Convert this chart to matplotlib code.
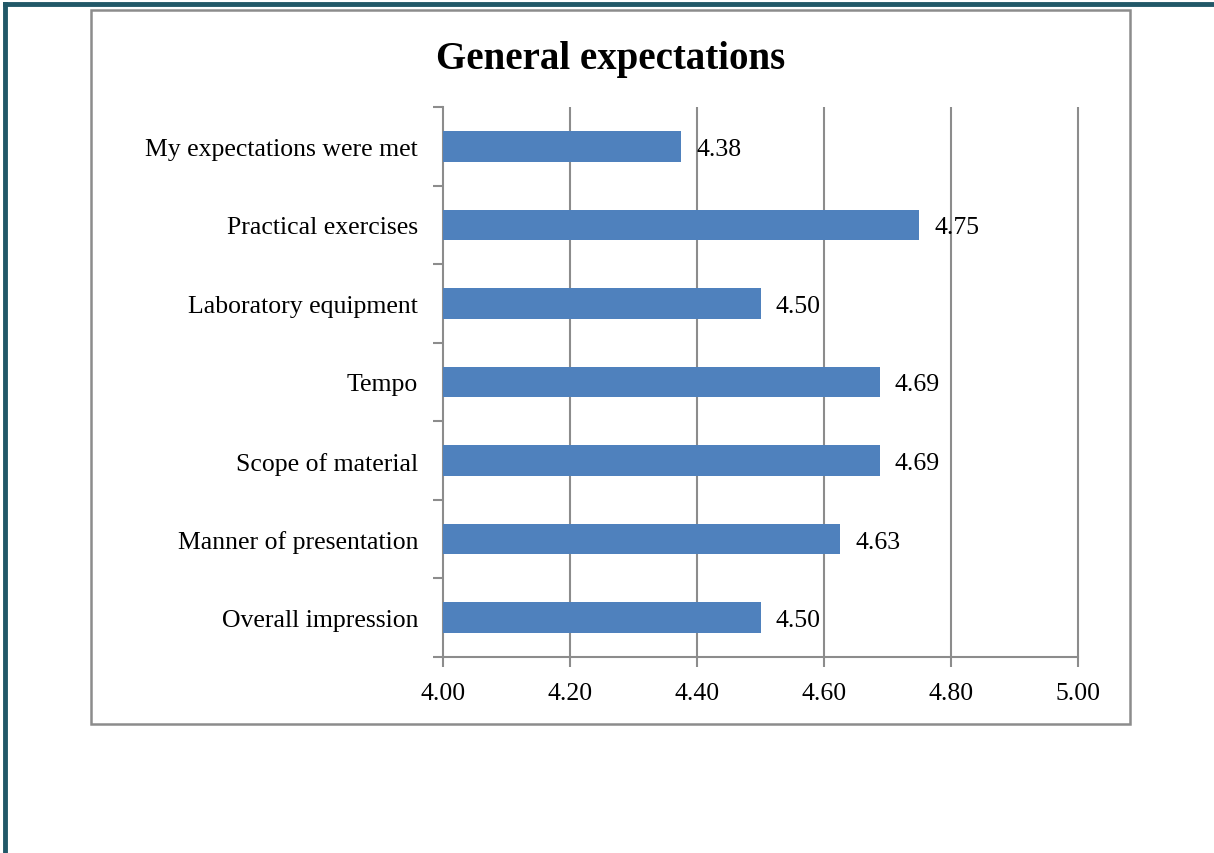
import matplotlib.pyplot as plt
from matplotlib.patches import Rectangle
import numpy as np

# Chart data (bottom to top, as drawn)
categories = ['Overall impression', 'Manner of presentation', 'Scope of material',
              'Tempo', 'Laboratory equipment', 'Practical exercises',
              'My expectations were met']
scores = [4.50, 4.625, 4.6875, 4.6875, 4.50, 4.75, 4.375]
x_ticks = [4.00, 4.20, 4.40, 4.60, 4.80, 5.00]

plt.rcParams['font.family'] = ['Liberation Serif', 'DejaVu Serif']

fig = plt.figure(figsize=(12.14, 8.54), dpi=100)
W, H = 1214, 854

# outer page border (top and left) and chart frame
fig.add_artist(plt.Line2D([5 / W, 1], [1 - 5 / H, 1 - 5 / H], color='#215868', lw=3.5))
fig.add_artist(plt.Line2D([5 / W, 5 / W], [0, 1 - 5 / H], color='#215868', lw=3.5))
fig.add_artist(Rectangle((91 / W, 1 - 725 / H), (1130 - 91) / W, (725 - 11) / H,
                         transform=fig.transFigure, fill=False, edgecolor='#8c8c8c', lw=1.8))

ax = fig.add_axes([443 / W, 1 - 658 / H, (1078 - 443) / W, (658 - 108) / H])
y = np.arange(len(categories))
ax.barh(y, [s - 4.0 for s in scores], left=4.0, height=0.39, color='#4F81BD', zorder=3)

for yi, s in zip(y, scores):
    ax.text(s + 0.024, yi, '%.2f' % (s + 1e-9), va='center_baseline', ha='left',
            fontsize=18.5, zorder=4)

ax.set_xlim(4.0, 5.0)
ax.set_ylim(-0.5, len(categories) - 0.5)
ax.set_xticks(x_ticks)
ax.set_xticklabels(['%.2f' % t for t in x_ticks], fontsize=18.5)
ax.set_yticks(y)
ax.set_yticklabels(categories, fontsize=18.5, va='center_baseline')
ax.set_yticks(np.arange(-0.5, len(categories)), minor=True)
ax.tick_params(axis='y', which='major', length=0, pad=18)
ax.tick_params(axis='y', which='minor', length=7, color='#8c8c8c', width=1.5)
ax.tick_params(axis='x', length=7, color='#8c8c8c', width=1.5, pad=11)
ax.vlines(x_ticks[1:], -0.5, len(categories) - 0.5, color='#8c8c8c', lw=1.5,
          zorder=0, clip_on=False)

for side in ['top', 'right']:
    ax.spines[side].set_visible(False)
for side in ['left', 'bottom']:
    ax.spines[side].set_color('#8c8c8c')
    ax.spines[side].set_linewidth(1.5)

fig.text(611 / W, 1 - 59 / H, 'General expectations', ha='center', va='center',
         fontsize=28, fontweight='bold')

fig.savefig('out.png', dpi=100)
